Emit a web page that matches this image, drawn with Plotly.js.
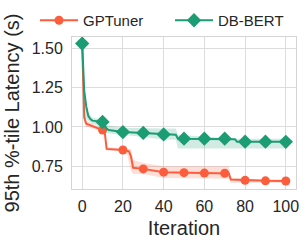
<!DOCTYPE html>
<html>
<head>
<meta charset="utf-8">
<script src="https://cdn.plot.ly/plotly-3.0.1.min.js"></script>
<style>html,body{margin:0;padding:0;background:#fff;}#chart{width:307px;height:242px;}</style>
</head>
<body>
<div id="chart"></div>
<script>
// GPTuner best-so-far latency (mean) by iteration
const gpX = [0, 1, 2, 5, 8, 10, 11, 12, 20, 23, 24, 25, 30, 40, 50, 60, 70, 72, 73, 80, 90, 100];
const gpY = [1.53, 1.06, 1.02, 1.005, 0.995, 0.98, 0.975, 0.86, 0.853, 0.845, 0.81, 0.74, 0.733, 0.712, 0.709, 0.706, 0.705, 0.703, 0.665, 0.66, 0.657, 0.656];
// GPTuner spread band
const gpBandX = [0, 1, 2, 5, 8, 10, 11, 12, 20, 22, 24, 25, 30, 40, 70, 72, 73, 80, 100];
const gpLow   = [1.53, 1.03, 1.0, 0.99, 0.98, 0.96, 0.96, 0.85, 0.845, 0.83, 0.72, 0.70, 0.70, 0.675, 0.672, 0.67, 0.645, 0.645, 0.645];
const gpHigh  = [1.53, 1.10, 1.04, 1.02, 1.0, 0.99, 0.99, 0.87, 0.865, 0.86, 0.86, 0.79, 0.77, 0.75, 0.75, 0.75, 0.675, 0.67, 0.665];

// DB-BERT best-so-far latency (mean) by iteration
const dbX = [0, 1, 2, 3, 4, 5, 10, 12, 13, 20, 30, 40, 46, 47, 50, 60, 70, 75, 76, 80, 90, 100];
const dbY = [1.53, 1.23, 1.13, 1.07, 1.05, 1.04, 1.032, 0.99, 0.98, 0.967, 0.962, 0.952, 0.95, 0.925, 0.925, 0.925, 0.925, 0.922, 0.906, 0.906, 0.906, 0.905];
// DB-BERT spread band
const dbBandX = [0, 1, 2, 3, 5, 10, 12, 20, 40, 46, 47, 75, 76, 100];
const dbLow   = [1.53, 1.05, 1.05, 1.04, 1.02, 1.0, 0.96, 0.95, 0.92, 0.918, 0.863, 0.863, 0.863, 0.863];
const dbHigh  = [1.53, 1.25, 1.15, 1.09, 1.06, 1.045, 1.01, 0.995, 0.99, 0.99, 0.95, 0.93, 0.925, 0.925];

const seriesNames = ["GPTuner", "DB-BERT"];
const xTicks = [0, 20, 40, 60, 80, 100];
const yTicks = [0.75, 1.00, 1.25, 1.50];

const RED = "#fb5d3d", GREEN = "#1b9c72";
const RED_FILL = "rgba(251,93,61,0.2)", GREEN_FILL = "rgba(27,156,114,0.2)";

function every10(xs, ys) {
  const ox = [], oy = [];
  xs.forEach((v, i) => { if (v % 10 === 0) { ox.push(v); oy.push(ys[i]); } });
  return {x: ox, y: oy};
}
const gpM = every10(gpX, gpY), dbM = every10(dbX, dbY);

const traces = [
  {x: gpBandX, y: gpLow, mode: "lines", line: {width: 0}, showlegend: false, hoverinfo: "skip"},
  {x: gpBandX, y: gpHigh, mode: "lines", line: {width: 0}, fill: "tonexty", fillcolor: RED_FILL, showlegend: false, hoverinfo: "skip"},
  {x: gpX, y: gpY, mode: "lines", line: {color: RED, width: 2}, showlegend: false},
  {x: gpM.x, y: gpM.y, mode: "markers", marker: {color: RED, size: 9, symbol: "circle"}, showlegend: false},
  {x: dbBandX, y: dbLow, mode: "lines", line: {width: 0}, showlegend: false, hoverinfo: "skip"},
  {x: dbBandX, y: dbHigh, mode: "lines", line: {width: 0}, fill: "tonexty", fillcolor: GREEN_FILL, showlegend: false, hoverinfo: "skip"},
  {x: dbX, y: dbY, mode: "lines", line: {color: GREEN, width: 2}, showlegend: false},
  {x: dbM.x, y: dbM.y, mode: "markers", marker: {color: GREEN, size: 11, symbol: "diamond"}, showlegend: false},
  {x: [null], y: [null], name: seriesNames[0], legend: "legend", mode: "lines+markers", line: {color: RED, width: 2}, marker: {color: RED, size: 9, symbol: "circle"}},
  {x: [null], y: [null], name: seriesNames[1], legend: "legend2", mode: "lines+markers", line: {color: GREEN, width: 2}, marker: {color: GREEN, size: 11, symbol: "diamond"}}
];

const FONT = "Liberation Sans, Arial, sans-serif";
function legendAt(px) {
  return {orientation: "h", xref: "container", yref: "container",
          x: px / 307, xanchor: "left", y: 1 - 4 / 242, yanchor: "top",
          font: {size: 15, family: FONT, color: "#262626"}, itemwidth: 38,
          bgcolor: "rgba(0,0,0,0)", borderwidth: 0};
}
const layout = {
  width: 307, height: 242,
  margin: {l: 72, r: 11, t: 33, b: 53},
  paper_bgcolor: "#fff", plot_bgcolor: "#fff",
  font: {family: FONT, color: "#262626", size: 16},
  showlegend: true,
  legend: legendAt(35),
  legend2: legendAt(170),
  xaxis: {range: [-5, 105], tickvals: xTicks, ticktext: xTicks.map(String),
          showgrid: true, gridcolor: "#dcdcdc", gridwidth: 1, zeroline: false,
          showline: true, mirror: true, linecolor: "#d4d4d4", linewidth: 1,
          ticks: "", ticklabelstandoff: 3, tickfont: {size: 16},
          title: {text: "Iteration", font: {size: 20}, standoff: 6}},
  yaxis: {range: [0.605, 1.572], tickvals: yTicks, ticktext: yTicks.map(v => v.toFixed(2)),
          showgrid: true, gridcolor: "#dcdcdc", gridwidth: 1, zeroline: false,
          showline: true, mirror: true, linecolor: "#d4d4d4", linewidth: 1,
          ticks: "", ticklabelstandoff: 5, tickfont: {size: 16},
          title: {text: "95th %-tile Latency (s)", font: {size: 20}, standoff: 6}}
};
Plotly.newPlot("chart", traces, layout, {displayModeBar: false, staticPlot: true});
</script>
</body>
</html>
